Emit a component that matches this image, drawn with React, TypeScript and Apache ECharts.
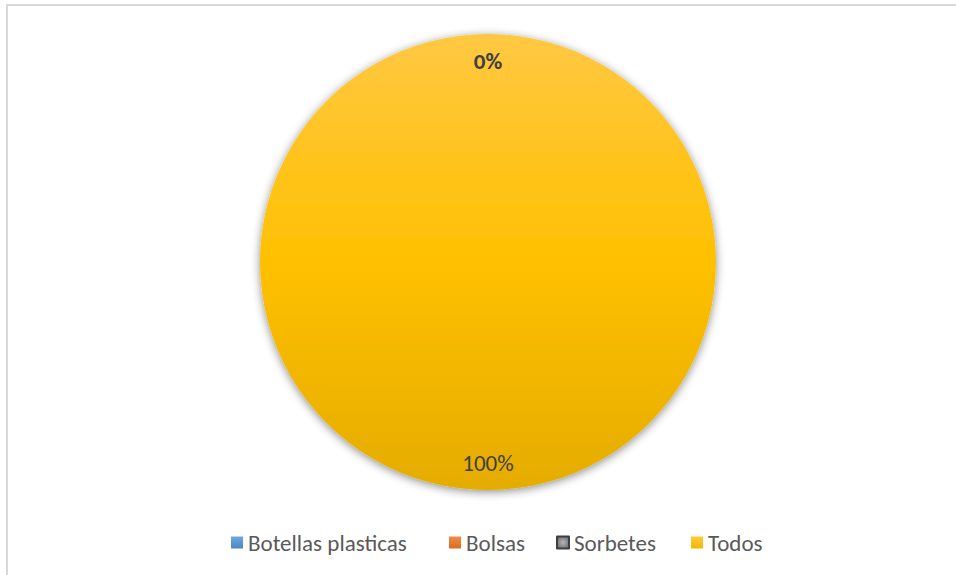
import React, { useEffect, useRef } from "react";
import * as echarts from "echarts";

const categories = ["Botellas plasticas", "Bolsas", "Sorbetes", "Todos"];
const values = [0, 0, 0, 100];

const FONT = "Carlito, Lato, 'Open Sans', sans-serif";

const grad = (a: string, b: string) =>
  new echarts.graphic.LinearGradient(0, 0, 0, 1, [
    { offset: 0, color: a },
    { offset: 1, color: b },
  ]);

const sliceColors = [
  grad("#6FA8DC", "#4A86C5"),
  grad("#F28C4A", "#DD6A1F"),
  grad("#A5A5A5", "#7F7F7F"),
  new echarts.graphic.LinearGradient(0, 0, 0, 1, [
    { offset: 0, color: "#FFC842" },
    { offset: 0.5, color: "#FFC000" },
    { offset: 1, color: "#E5AC00" },
  ]),
];

const legendIcons = [
  { color: grad("#6FA8DC", "#4A86C5") },
  { color: grad("#F28C4A", "#DD6A1F") },
  {
    color: new echarts.graphic.RadialGradient(0.5, 0.5, 0.6, [
      { offset: 0, color: "#B5B5B5" },
      { offset: 1, color: "#6E6E6E" },
    ]),
    borderColor: "#3F3F3F",
    borderWidth: 2,
  },
  { color: grad("#FFCB3A", "#F2B600") },
];
const legendLefts = [226, 444, 551, 686];

export default function App() {
  const ref = useRef<HTMLDivElement>(null);
  useEffect(() => {
    if (!ref.current) return;
    const chart = echarts.init(ref.current, null, { renderer: "svg" });
    const data = categories.map((name, i) => ({
      name,
      value: values[i],
      itemStyle: { color: sliceColors[i] },
    }));
    chart.setOption({
      animation: false,
      backgroundColor: "#ffffff",
      graphic: [
        {
          type: "rect",
          shape: { x: 7, y: 5, width: 1200, height: 1200 },
          style: { fill: "none", stroke: "#D9D9D9", lineWidth: 2 },
          silent: true,
        },
      ],
      legend: categories.map((name, i) => ({
        left: legendLefts[i],
        top: 526,
        icon: "rect",
        itemWidth: 12,
        itemHeight: 12,
        itemGap: 5,
        selectedMode: false,
        textStyle: { color: "#595959", fontSize: 23, fontFamily: FONT },
        data: [{ name, icon: "rect", itemStyle: legendIcons[i] }],
      })),
      series: [
        {
          type: "pie",
          center: [488, 262],
          radius: [0, 228],
          startAngle: 90,
          clockwise: true,
          label: { show: false },
          labelLine: { show: false },
          itemStyle: {
            borderWidth: 0,
            shadowBlur: 10,
            shadowColor: "rgba(0,0,0,0.45)",
            shadowOffsetY: 2,
          },
          emphasis: { disabled: true },
          data,
        },
        {
          type: "pie",
          center: [488, 262],
          radius: [168, 228],
          startAngle: 90,
          clockwise: true,
          silent: true,
          itemStyle: { color: "rgba(0,0,0,0)", borderWidth: 0 },
          label: {
            show: true,
            position: "inside",
            formatter: "{d}%",
            color: "#404040",
            fontSize: 23,
            fontFamily: FONT,
          },
          labelLine: { show: false },
          emphasis: { disabled: true },
          data: categories.map((name, i) => ({
            name,
            value: values[i],
            label: { fontWeight: values[i] === 0 ? "bold" : "normal" },
          })),
        },
      ],
    });
    return () => chart.dispose();
  }, []);
  return (
    <div
      ref={ref}
      style={{ position: "absolute", left: 0, top: 0, width: 956, height: 575 }}
    />
  );
}
